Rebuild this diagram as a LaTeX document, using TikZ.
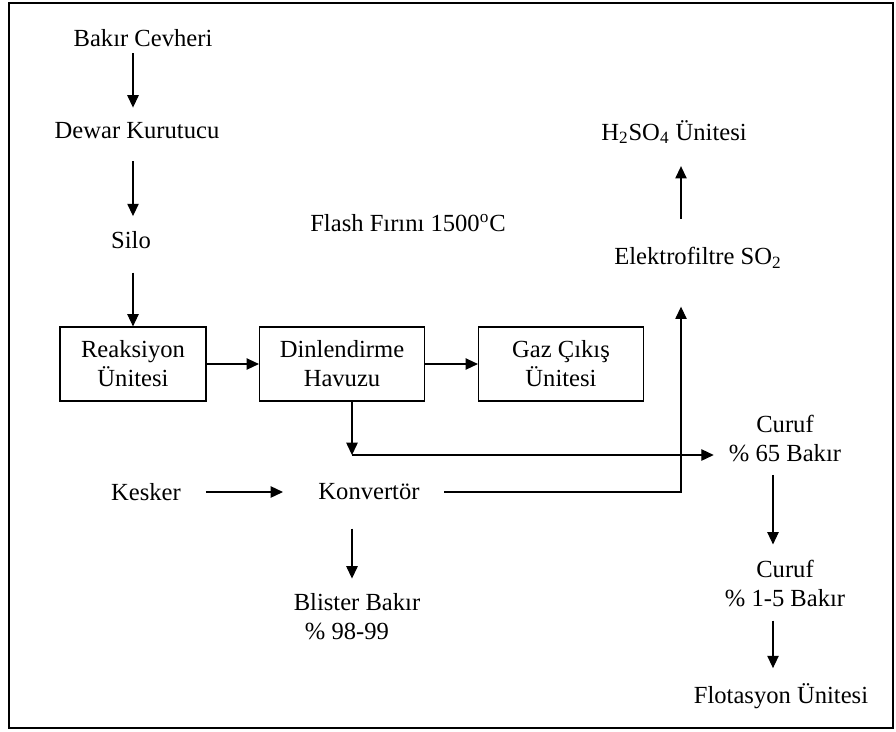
\documentclass[tikz,border=0pt]{standalone}
\usepackage{fontspec}
\setmainfont{Liberation Serif}
\usetikzlibrary{arrows.meta}
\begin{document}
\begin{tikzpicture}[x=0.02cm, y=-0.02cm, every node/.style={font=\fontsize{14}{16.5}\selectfont, inner sep=2pt, align=center}, unit/.style={draw, line width=0.7pt, minimum width=3.3cm, minimum height=1.48cm}, flow/.style={-{Triangle[length=7pt, width=6.5pt]}, line width=0.6pt}]
		\useasboundingbox (0,0) rectangle (896,731);
		\draw[line width=1.4pt] (9,3) rectangle (893,728);
		\node (1) at (143,38) {Bakır Cevheri};
		\node (2) at (137,131) {Dewar Kurutucu};
		\node (3) at (131,240) {Silo};
		\node[unit, minimum width=2.92cm] (4) at (133,364) {Reaksiyon\\Ünitesi};
		\node[unit] (5) at (342,364) {Dinlendirme\\Havuzu};
		\node[unit] (6) at (561,364) {Gaz Çıkış\\Ünitesi};
		\node (7) at (408,223) {Flash Fırını 1500\textsuperscript{o}C};
		\node (8) at (674,132) {H\textsubscript{2}SO\textsubscript{4} Ünitesi};
		\node (9) at (698,258) {Elektrofiltre SO\textsubscript{2}};
		\node (10) at (146,492) {Kesker};
		\node (11) at (369,492) {Konvertör};
		\node[align=left] (12) at (357,617) {Blister Bakır\\\hspace*{0.45em}\% 98-99};
		\node (13) at (785,438) {Curuf\\\% 65 Bakır};
		\node (14) at (785,583) {Curuf\\\% 1-5 Bakır};
		\node (15) at (781,696) {Flotasyon Ünitesi};
		\coordinate (j) at (352,455);
		\coordinate (e) at (681,492);
		\draw[flow, shorten <=1.5pt, shorten >=6.5pt] (4.north |- 1.south) -- (4.north |- 2.north);
		\draw[flow, shorten <=10.5pt, shorten >=6.5pt] (4.north |- 2.south) -- (4.north |- 3.north);
		\draw[flow, shorten <=11.5pt] (4.north |- 3.south) -- (4.north);
		\draw[flow] (4) -- (5);
		\draw[flow] (5) -- (6);
		\draw[flow] (5.south -| j) -- (j);
		\draw[flow, shorten >=6.5pt] (j) -- (j -| 13.west);
		\draw[flow, shorten <=12pt, shorten >=18pt] (10) -- (11);
		\draw[flow, shorten <=12pt, shorten >=19.5pt] (11.east) -| (9.south -| e);
		\draw[flow, shorten <=14pt, shorten >=10.5pt] (e |- 9.north) -- (e |- 8.south);
		\draw[flow, shorten <=14pt, shorten >=6.5pt] (j |- 11.south) -- (j |- 12.north);
		\draw[flow, shorten <=5.5pt, shorten >=6.5pt] ([xshift=-0.24cm]13.south) -- ([xshift=-0.24cm]14.north);
		\draw[flow, shorten <=6pt, shorten >=6.5pt] ([xshift=-0.24cm]14.south) -- ([xshift=-0.24cm]14.south |- 15.north);
	\end{tikzpicture}
\end{document}
